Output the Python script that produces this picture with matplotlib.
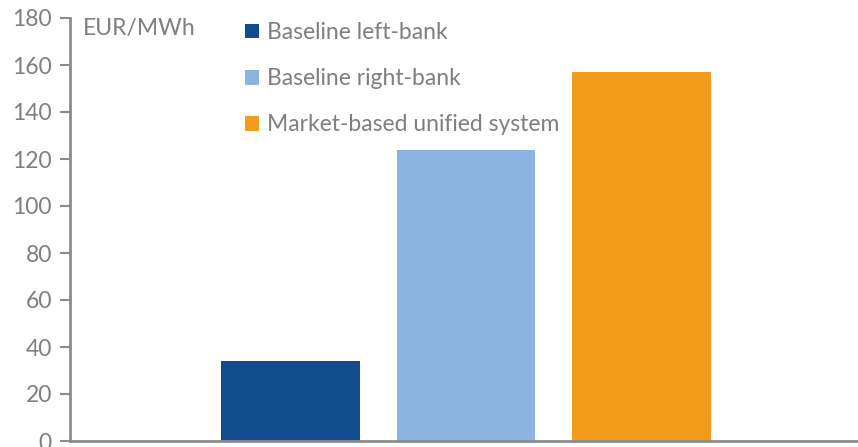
"""Precio medio de la electricidad: escenarios base frente a sistema unificado."""
import matplotlib
matplotlib.use("Agg")
import matplotlib.pyplot as plt

series = ["Baseline left-bank", "Baseline right-bank", "Market-based unified system"]
valores = [34, 124, 157]
colores = ["#114c8f", "#8bb4e2", "#f39c1c"]
unidad = "EUR/MWh"
yticks = [0, 20, 40, 60, 80, 100, 120, 140, 160, 180]

GRIS = "#7f7f7f"
EJE = "#8c8c8c"
plt.rcParams["font.family"] = ["Lato", "DejaVu Sans"]

fig = plt.figure(figsize=(8.58, 4.47), dpi=100)
ax = fig.add_axes([70 / 858, 6 / 447, 1 - 70 / 858, (441 - 18) / 447])

x = list(range(len(series)))
barras = ax.bar(x, valores, width=0.79, color=colores)
for b, nombre in zip(barras, series):
    b.set_label(nombre)

ax.set_xlim(-1.253, 3.23)
ax.set_ylim(0, 180)
ax.set_yticks(yticks)
ax.set_xticks([])
ax.tick_params(axis="y", direction="out", length=7, width=1.5, color=EJE,
               labelcolor=GRIS, labelsize=16.5, pad=6)
for lado in ("top", "right"):
    ax.spines[lado].set_visible(False)
for lado in ("left", "bottom"):
    ax.spines[lado].set_color(EJE)
    ax.spines[lado].set_linewidth(2)

fig.text(83 / 858, 1 - 28 / 447, unidad, fontsize=16.5, color=GRIS, va="center")

ax.legend(handles=list(barras), loc="upper left", frameon=False,
          bbox_to_anchor=(245 / 858, 1 - 22 / 447), bbox_transform=fig.transFigure,
          fontsize=16.5, labelcolor=GRIS, handlelength=0.62, handleheight=0.62,
          handletextpad=0.35, labelspacing=1.1, borderpad=0, borderaxespad=0)

fig.savefig("out.png", dpi=100)
